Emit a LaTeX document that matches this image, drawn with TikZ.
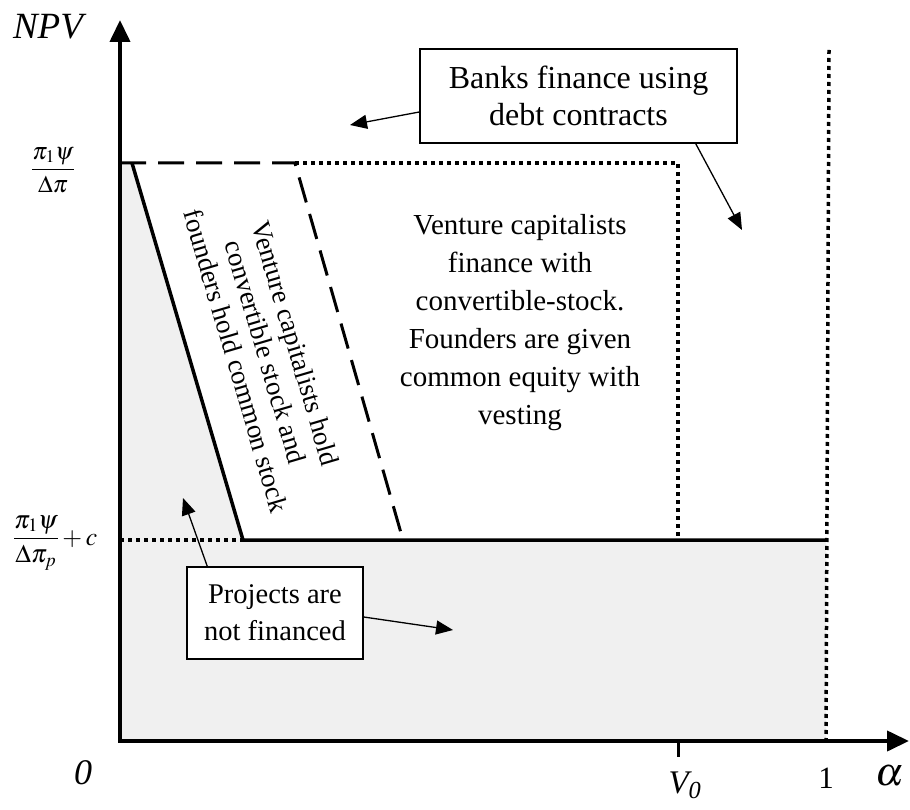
\documentclass[tikz,border=0pt]{standalone}
\usepackage{amsmath}
\usepackage{mathptmx}
\usepackage{fontspec}
\setmainfont{Liberation Serif}
\usetikzlibrary{arrows.meta}

\begin{document}
\begin{tikzpicture}[x=1pt,y=1pt]
	\tikzset{axis/.style={line width=4pt,-{Triangle[length=22pt,width=20pt]}},
		pointer/.style={line width=1.3pt,-{Triangle[length=17pt,width=14pt]}},
		dotline/.style={line width=3.5pt,dash pattern=on 4pt off 4pt},
		dashline/.style={line width=3pt,dash pattern=on 26pt off 12pt},
		solidline/.style={line width=3.5pt},
		labelbox/.style={draw,line width=1.5pt,fill=white,align=center,inner sep=0pt}}
	\useasboundingbox (0,0) rectangle (910,-810);
	% region where projects are not financed
	\fill [black!6] (120,-163) -- (132,-163) -- (243,-540) -- (826,-540) -- (826,-741) -- (120,-741) -- cycle;
	% points of the picture
	\coordinate (origin) at (120,-741);
	\coordinate (ytip) at (120,-20);
	\coordinate (xtip) at (909,-741);
	\coordinate (topL) at (120,-163);
	\coordinate (kinkA) at (132,-163);
	\coordinate (kinkB) at (295,-163);
	\coordinate (topR) at (678,-163);
	\coordinate (lowL) at (120,-540);
	\coordinate (footA) at (243,-540);
	\coordinate (footB) at (403,-540);
	\coordinate (lowV) at (678,-540);
	\coordinate (lowR) at (826,-540);
	\coordinate (oneTop) at (829,-50);
	\coordinate (oneBot) at (826,-741);
	\coordinate (tickTop) at (678,-741);
	\coordinate (tickBot) at (678,-757);
	% boundaries of the regions
	\draw [dotline] (lowL) -- (footA);
	\draw [dotline] (kinkB) -- (topR) -- (lowV);
	\draw [dotline] (oneTop) -- (oneBot);
	\draw [dashline] (topL) -- (kinkB) -- (footB);
	\draw [solidline] (kinkA) -- (footA) -- (lowR);
	% axes
	\draw [axis] (origin) -- (ytip);
	\draw [axis] ([xshift=-2pt]origin) -- (xtip);
	\draw [line width=3pt] (tickTop) -- (tickBot);
	\draw (48,-27) node (npv) [font=\fontsize{37}{40}\selectfont\itshape] {NPV};
	\draw (53,-170) node (ylabA) [font=\fontsize{24}{28}\selectfont] {$\dfrac{\pi_1\psi}{\Delta\pi}$};
	\draw (55,-543) node (ylabB) [font=\fontsize{25.5}{28}\selectfont] {$\dfrac{\pi_1\psi}{\Delta\pi_p}+c$};
	\draw (83,-773) node (zero) [font=\fontsize{36}{40}\selectfont\itshape] {0};
	\draw (685,-785) node (vzero) [font=\fontsize{33}{36}\selectfont\itshape] {V\textsubscript{0}};
	\draw (826,-778) node (one) [font=\fontsize{31}{34}\selectfont] {1};
	\draw (890,-776) node (alpha) [font=\fontsize{40}{44}\selectfont] {$\alpha$};
	% texts of the regions
	\draw (520,-323) node (vcbig) [align=center,font=\fontsize{29}{38}\selectfont] {Venture capitalists\\finance with\\convertible-stock.\\Founders are given\\common equity with\\vesting};
	\draw (266,-352) node (vcthin) [align=center,rotate=-73.6,font=\fontsize{27}{31}\selectfont] {Venture capitalists hold\\convertible stock and\\founders hold common stock};
	\node (banks) [labelbox,minimum width=317pt,minimum height=94pt,font=\fontsize{32}{37}\selectfont] at (578.5,-96) {Banks finance using\\debt contracts};
	\node (proj) [labelbox,minimum width=176pt,minimum height=92pt,font=\fontsize{28.5}{37}\selectfont] at (275,-613) {Projects are\\not financed};
	\coordinate (banksL) at (350,-125);
	\coordinate (banksR) at (742,-230);
	\coordinate (projU) at (183,-498);
	\coordinate (projR) at (453,-630);
	\draw [pointer] ([yshift=-16pt]banks.west) -- (banksL);
	\draw [pointer] ([xshift=-42pt]banks.south east) -- (banksR);
	\draw [pointer] ([xshift=21pt]proj.north west) -- (projU);
	\draw [pointer] ([yshift=-4pt]proj.east) -- (projR);
\end{tikzpicture}
\end{document}
